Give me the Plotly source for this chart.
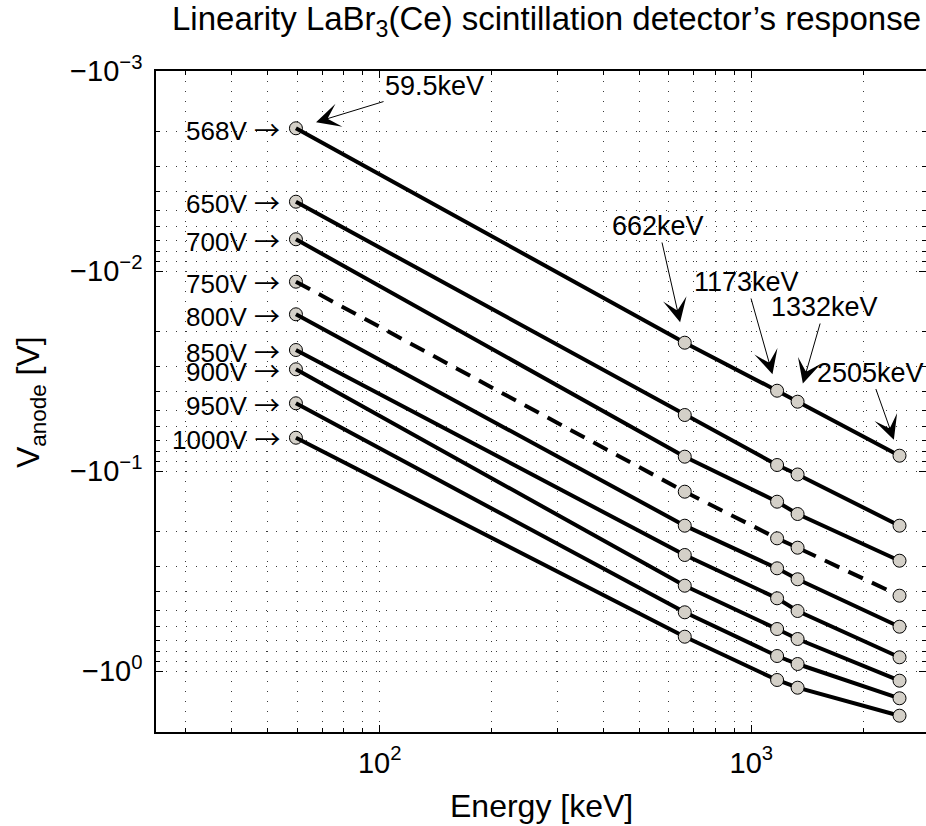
import math
import plotly.graph_objects as go

# ---------------- data ----------------
energy_keV = [59.5, 662, 1173, 1332, 2505]
hv_labels = ["568V", "650V", "700V", "750V", "800V", "850V", "900V", "950V", "1000V"]

v_568 = [-0.001934, -0.02283, -0.03968, -0.04503, -0.08385]
v_650 = [-0.004503, -0.05248, -0.09333, -0.1041, -0.1877]
v_700 = [-0.00694, -0.0848, -0.1424, -0.1641, -0.2809]
v_750 = [-0.01131, -0.1269, -0.2171, -0.2418, -0.4202]
v_800 = [-0.01646, -0.1877, -0.3066, -0.3478, -0.6005]
v_850 = [-0.02483, -0.2630, -0.4330, -0.5012, -0.8541]
v_900 = [-0.03101, -0.3746, -0.6166, -0.6918, -1.118]
v_950 = [-0.04586, -0.5087, -0.8414, -0.9226, -1.369]
v_1000 = [-0.06817, -0.6738, -1.109, -1.212, -1.673]

series = [v_568, v_650, v_700, v_750, v_800, v_850, v_900, v_950, v_1000]
dashed_label = "750V"

energy_labels = ["59.5keV", "662keV", "1173keV", "1332keV", "2505keV"]

x_tickvals = [100, 1000]
x_ticktext = ["10<sup>2</sup>", "10<sup>3</sup>"]
y_tickvals = [1e-3, 1e-2, 1e-1, 1]
y_ticktext = ["\u221210<sup>\u22123</sup>", "\u221210<sup>\u22122</sup>",
              "\u221210<sup>\u22121</sup>", "\u221210<sup>0</sup>"]

# ---------------- styling ----------------
FONT = "Liberation Sans, Arial, Helvetica, sans-serif"
W, H = 926, 826
ML, MR, MT, MB = 156, 0, 71, 94
PW, PH = W - ML - MR, H - MT - MB
MK_FILL = "#d4d0c8"
GRID = "#3a3a3a"
GDASH = "1px,9px"

def px2paper(px, py):
    return (px - ML) / PW, 1 - (py - MT) / PH

fig = go.Figure()

mag = [[-v for v in s] for s in series]

# markers at first energy (drawn under the lines)
fig.add_trace(go.Scatter(
    x=[energy_keV[0]] * len(mag), y=[m[0] for m in mag], mode="markers",
    marker=dict(size=13, color=MK_FILL, line=dict(color="black", width=1)),
    showlegend=False, hoverinfo="skip"))

for lab, m in zip(hv_labels, mag):
    fig.add_trace(go.Scatter(
        x=energy_keV, y=m, mode="lines",
        line=dict(color="black", width=4,
                  dash="16px,10px" if lab == dashed_label else "solid"),
        showlegend=False, name=lab))

xs, ys = [], []
for m in mag:
    xs += energy_keV[1:]
    ys += m[1:]
fig.add_trace(go.Scatter(
    x=xs, y=ys, mode="markers",
    marker=dict(size=13, color=MK_FILL, line=dict(color="black", width=1)),
    showlegend=False, hoverinfo="skip"))

anns = []
# voltage labels
ARROW = "<span style='font-family:Noto Sans CJK JP'>\u2192</span>"
for lab, m in zip(hv_labels, mag):
    anns.append(dict(x=math.log10(energy_keV[0]), y=math.log10(m[0]),
                     xref="x", yref="y", text=lab + " " + ARROW, showarrow=False,
                     xanchor="right", yanchor="middle", xshift=-14,
                     font=dict(size=26, color="black", family=FONT)))

# energy labels with arrows
offsets = [(138.6, -42.3, 21), (-26.5, -116.7, 21), (-30.7, -108.7, 17),
           (27.3, -94.7, 19), (-29.5, -83.2, 17)]
for e, lab, vv, (ax, ay, so) in zip(energy_keV, energy_labels, mag[0], offsets):
    anns.append(dict(x=math.log10(e), y=math.log10(vv), xref="x", yref="y",
                     text=lab, showarrow=True, ax=ax, ay=ay, standoff=so,
                     arrowhead=3, arrowsize=4, arrowwidth=1, arrowcolor="black",
                     font=dict(size=27, color="black", family=FONT)))

# title
tx, ty = px2paper(546, 21)
anns.append(dict(x=tx, y=ty, xref="paper", yref="paper", showarrow=False,
                 text="Linearity LaBr<sub>3</sub>(Ce) scintillation detector\u2019s response",
                 xanchor="center", yanchor="middle",
                 font=dict(size=33, color="black", family=FONT)))
# x title
xx, xy = px2paper(541.7, 806)
anns.append(dict(x=xx, y=xy, xref="paper", yref="paper", showarrow=False,
                 text="Energy [keV]", xanchor="center", yanchor="middle",
                 font=dict(size=32, color="black", family=FONT)))
# y title
yx, yy = px2paper(30, 402)
anns.append(dict(x=yx, y=yy, xref="paper", yref="paper", showarrow=False,
                 text="V<sub>anode</sub> [V]", textangle=-90,
                 xanchor="center", yanchor="middle",
                 font=dict(size=32, color="black", family=FONT)))

x_minor = [30, 40, 50, 60, 70, 80, 90, 200, 300, 400, 500, 600, 700, 800, 900, 2000]
y_minor = [k * d for d in (1e-3, 1e-2, 1e-1) for k in range(2, 10)]

x_lo = math.log10(25)
x_hi = x_lo + PW / 371.6
y_bot = -3 + PH / 200.0

fig.update_layout(
    width=W, height=H,
    margin=dict(l=ML, r=MR, t=MT, b=MB, autoexpand=False),
    paper_bgcolor="white", plot_bgcolor="white",
    font=dict(family=FONT, color="black", size=29),
    annotations=anns,
    xaxis=dict(type="log", range=[x_lo, x_hi], showline=True, linecolor="black",
               linewidth=1.5, mirror="ticks", ticks="inside", ticklen=7,
               tickwidth=1, tickcolor="black", tickvals=x_tickvals,
               ticktext=x_ticktext, tickfont=dict(size=29),
               showgrid=True, gridcolor=GRID, gridwidth=1, griddash=GDASH,
               zeroline=False, ticklabelstandoff=4,
               minor=dict(tickvals=x_minor, ticks="inside", ticklen=4,
                          tickcolor="black", showgrid=True, gridcolor=GRID,
                          gridwidth=1, griddash=GDASH)),
    yaxis=dict(type="log", range=[y_bot, -3], showline=True, linecolor="black",
               linewidth=1.5, mirror="ticks", ticks="inside", ticklen=7,
               tickwidth=1, tickcolor="black", tickvals=y_tickvals,
               ticktext=y_ticktext, tickfont=dict(size=29),
               showgrid=True, gridcolor=GRID, gridwidth=1, griddash=GDASH,
               zeroline=False, ticklabelstandoff=6,
               minor=dict(tickvals=y_minor, ticks="inside", ticklen=4,
                          tickcolor="black", showgrid=True, gridcolor=GRID,
                          gridwidth=1, griddash=GDASH)),
)

fig.write_html("out.html")
